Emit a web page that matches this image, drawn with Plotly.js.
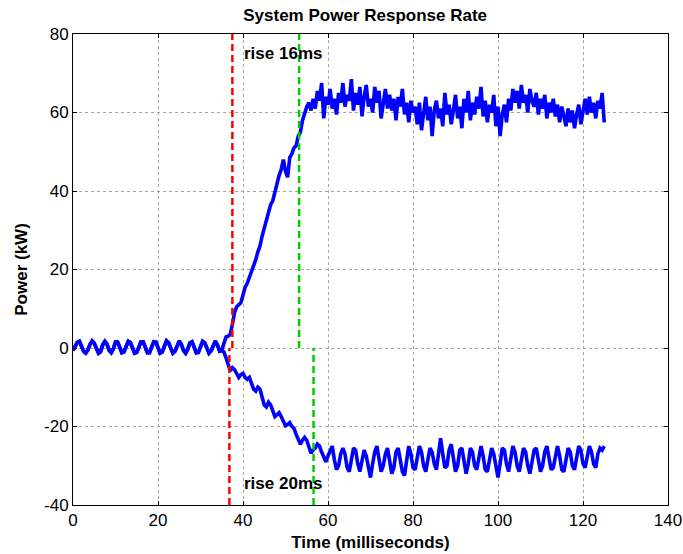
<!DOCTYPE html>
<html>
<head>
<meta charset="utf-8">
<script src="https://cdn.plot.ly/plotly-3.0.1.min.js"></script>
<style>html,body{margin:0;padding:0;background:#fff;}#chart{width:683px;height:554px;}</style>
</head>
<body>
<div id="chart"></div>
<script>
// sampling step of the recorded signal (ms)
const sampleStepMs = 0.5;

// common ripple before the step (t = 0 .. 35 ms)
const preStep = [
 -0.6, 0.2, 1.4, 1.7, 0.6, -0.8, -1.3, -0.5, 0.9, 1.8,
 1.2, -0.3, -1.3, -0.9, 0.8, 1.7, 1.0, -0.6, -1.2, -0.2,
 1.5, 1.5, 0.1, -1.2, -1.0, 0.4, 1.7, 1.4, -0.1, -1.3,
 -1.1, 0.3, 1.6, 1.6, 0.3, -1.2, -1.2, 0.2, 1.6, 1.5,
 0.0, -1.3, -1.0, 0.5, 1.8, 1.3, -0.2, -1.3, -0.8, 0.8,
 1.8, 0.9, -0.6, -1.3, -0.3, 1.3, 1.6, 0.2, -1.2, -1.1,
 0.4, 1.7, 1.3, -0.3, -1.3, -0.7, 0.9, 1.8, 0.7, -0.8,
 -0.6
];

// upper response (t = 35.5 .. 125 ms)
const upperAfter = [
 1.5, 2.8, 3.0, 3.5, 6.0, 9.0, 10.5, 11.0, 11.5, 13.5,
 15.5, 16.5, 18.0, 19.0, 21.0, 22.5, 24.5, 26.0, 28.5, 30.5,
 32.5, 34.0, 36.5, 37.5, 40.0, 42.0, 44.0, 45.5, 48.0, 45.0,
 43.5, 48.5, 49.5, 51.0, 51.5, 54.0, 55.0, 58.0, 60.0, 61.5,
 62.5, 60.5, 63.5, 61.0, 65.5, 63.0, 67.5, 58.5, 64.0, 62.0,
 66.0, 61.0, 63.5, 59.5, 65.0, 62.5, 67.5, 61.5, 64.5, 63.0,
 68.5, 60.5, 65.0, 62.0, 66.5, 59.0, 64.0, 67.0, 61.5, 63.5,
 60.0, 66.5, 62.5, 65.5, 58.5, 63.0, 66.0, 61.0, 64.5, 60.5,
 63.5, 58.0, 64.0, 61.5, 66.0, 59.5, 62.5, 57.5, 63.0, 60.0,
 61.5, 57.0, 62.5, 55.5, 60.0, 64.0, 58.0, 61.5, 54.0, 60.5,
 63.0, 58.5, 61.0, 56.5, 65.0, 59.5, 62.0, 57.0, 60.5, 64.5,
 58.5, 61.5, 56.0, 63.5, 60.0, 65.5, 58.0, 62.5, 59.5, 64.0,
 61.0, 66.5, 59.0, 63.0, 57.5, 62.0, 60.0, 64.5, 56.5, 61.5,
 54.0, 59.5, 62.0, 57.5, 63.5, 60.5, 66.0, 62.5, 65.5, 61.0,
 67.0, 62.5, 64.5, 60.0, 66.0, 63.0, 61.5, 65.0, 59.5, 63.5,
 61.0, 64.5, 58.5, 62.5, 60.0, 63.5, 59.0, 62.0, 57.5, 61.5,
 59.0, 56.5, 61.0, 57.5, 60.5, 56.0, 59.5, 62.0, 57.0, 60.5,
 63.5, 59.5, 64.0, 60.0, 62.5, 58.5, 63.0, 61.0, 65.0, 57.5
];

// lower response (t = 35.5 .. 125 ms)
const lowerAfter = [
 -1.0, -2.5, -4.5, -5.8, -5.0, -5.5, -6.5, -7.5, -6.8, -6.5,
 -7.5, -8.0, -7.5, -9.0, -10.5, -11.0, -10.0, -10.5, -12.5, -14.5,
 -15.0, -13.8, -14.5, -16.0, -17.5, -17.0, -16.5, -17.5, -18.5, -19.8,
 -19.5, -19.0, -20.0, -20.5, -22.0, -23.5, -24.5, -23.5, -22.8, -23.5,
 -25.5, -26.8, -26.0, -25.5, -24.5, -25.0, -26.5, -28.0, -29.0, -27.5,
 -26.0, -25.0, -28.5, -31.0, -30.0, -27.0, -25.5, -27.0, -30.5, -31.5,
 -28.5, -25.5, -26.0, -29.5, -31.5, -29.0, -26.0, -27.5, -31.0, -33.0,
 -29.5, -26.5, -25.0, -28.0, -31.5, -30.0, -27.0, -25.5, -29.0, -32.0,
 -30.5, -26.5, -25.5, -28.5, -31.5, -32.5, -28.5, -25.0, -27.0, -30.5,
 -31.0, -28.0, -25.0, -26.5, -30.0, -31.5, -28.5, -25.5, -26.5, -29.5,
 -31.0, -27.5, -23.0, -27.0, -30.5, -30.0, -26.0, -24.5, -28.5, -31.5,
 -30.0, -26.0, -25.5, -29.0, -32.0, -29.5, -25.5, -26.5, -30.0, -31.0,
 -28.0, -25.0, -27.5, -31.0, -31.5, -28.0, -25.5, -27.0, -30.5, -33.0,
 -29.5, -25.5, -26.0, -29.5, -31.5, -28.5, -25.0, -26.5, -30.0, -31.5,
 -28.5, -25.5, -26.5, -30.0, -32.0, -29.0, -26.0, -25.5, -29.0, -31.5,
 -30.0, -26.5, -25.0, -28.0, -31.0, -30.5, -27.0, -25.0, -27.5, -31.0,
 -31.5, -28.0, -25.5, -26.5, -30.0, -31.0, -28.0, -25.0, -26.0, -29.5,
 -30.5, -27.5, -25.0, -26.5, -29.5, -30.5, -27.0, -25.5, -26.0, -25.0
];

// rise markers (ms) and their vertical extents (kW)
const riseStartUpper = 37.5, riseEndUpper = 53.2;
const riseStartLower = 36.8, riseEndLower = 56.6;
const upperSpan = [0, 80];
const lowerSpan = [-40, 0];

// labels
const riseLabels = ["rise 16ms", "rise 20ms"];
const riseLabelX = [39.8, 39.8];
const riseLabelY = [75.0, -34.6];

const xTicks = [0, 20, 40, 60, 80, 100, 120, 140];
const yTicks = [-40, -20, 0, 20, 40, 60, 80];

const upper = preStep.concat(upperAfter);
const lower = preStep.concat(lowerAfter);
const time = upper.map((_, i) => i * sampleStepMs);

const blue = {color: '#0000ff', width: 3.6};
const traces = [
  {x: time, y: upper, type: 'scatter', mode: 'lines', line: blue, hoverinfo: 'skip'},
  {x: time, y: lower, type: 'scatter', mode: 'lines', line: blue, hoverinfo: 'skip'},
  {x: [riseStartUpper, riseStartUpper], y: upperSpan, mode: 'lines', line: {color: '#ff0000', width: 2.5, dash: '7px,4px'}},
  {x: [riseStartLower, riseStartLower], y: lowerSpan, mode: 'lines', line: {color: '#ff0000', width: 2.5, dash: '7px,4px'}},
  {x: [riseEndUpper, riseEndUpper], y: upperSpan, mode: 'lines', line: {color: '#00cc00', width: 2.5, dash: '7px,4px'}},
  {x: [riseEndLower, riseEndLower], y: lowerSpan, mode: 'lines', line: {color: '#00cc00', width: 2.5, dash: '7px,4px'}}
];

const font = 'Liberation Sans, Arial, Helvetica, sans-serif';
const axisCommon = {
  showline: true, linecolor: '#000', linewidth: 1, mirror: 'allticks',
  ticks: 'inside', ticklen: 4, tickcolor: '#000', tickwidth: 1,
  showgrid: true, gridcolor: '#a6a6a6', griddash: 'dot', gridwidth: 1,
  zeroline: false, tickfont: {family: font, size: 17, color: '#000'},
  fixedrange: true
};

const layout = {
  width: 683, height: 554,
  margin: {l: 73, r: 15, t: 34, b: 49},
  paper_bgcolor: '#fff', plot_bgcolor: '#fff',
  showlegend: false,
  title: {text: 'System Power Response Rate', font: {family: font, size: 17, color: '#000', weight: 'bold'},
          x: 0.491, xref: 'paper', y: 1 - 15/554, yref: 'container', yanchor: 'middle'},
  xaxis: Object.assign({}, axisCommon, {
    range: [0, 140], tickvals: xTicks, ticktext: xTicks.map(String),
    title: {text: 'Time (milliseconds)', font: {family: font, size: 17, color: '#000', weight: 'bold'}, standoff: 6}
  }),
  yaxis: Object.assign({}, axisCommon, {
    range: [-40, 80], tickvals: yTicks, ticktext: yTicks.map(String),
    title: {text: 'Power (kW)', font: {family: font, size: 17, color: '#000', weight: 'bold'}, standoff: 12}
  }),
  annotations: riseLabels.map((t, i) => ({
    text: t, x: riseLabelX[i], y: riseLabelY[i], xref: 'x', yref: 'y',
    xanchor: 'left', yanchor: 'middle', showarrow: false,
    font: {family: font, size: 17, color: '#000', weight: 'bold'}
  }))
};

Plotly.newPlot('chart', traces, layout, {staticPlot: true, displayModeBar: false});
</script>
</body>
</html>
